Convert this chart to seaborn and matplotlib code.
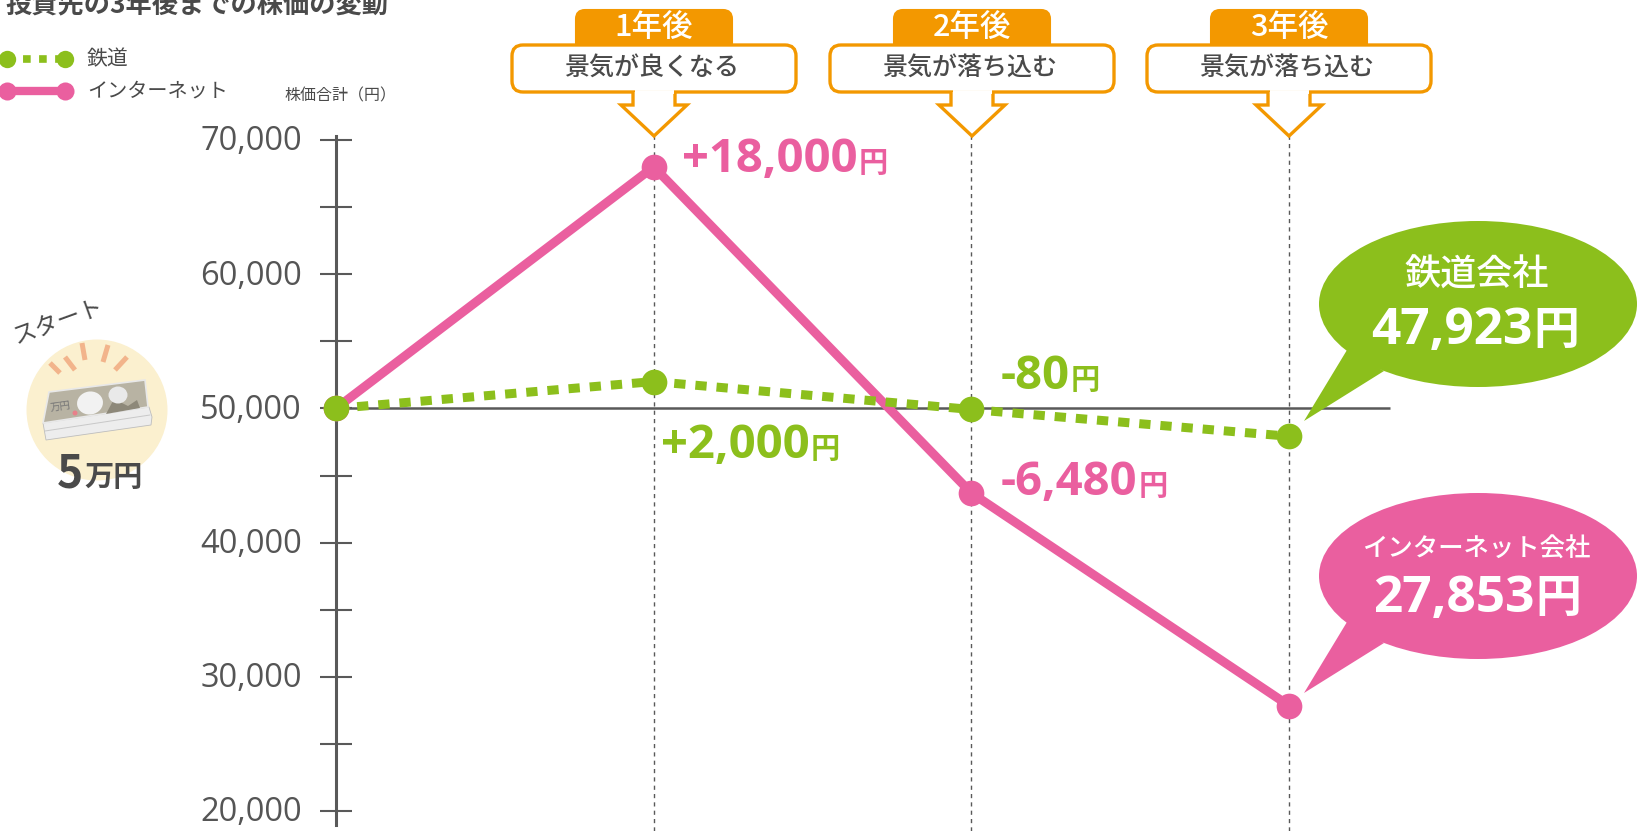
import matplotlib
matplotlib.use("Agg")
import matplotlib.pyplot as plt
import pandas as pd
import seaborn as sns
from matplotlib.patches import Circle, Ellipse, FancyBboxPatch, Polygon
from matplotlib.ticker import FixedLocator, FuncFormatter
from matplotlib.transforms import ScaledTranslation

years = [0, 1, 2, 3]
rail = [50000, 52000, 49920, 47923]
internet = [50000, 68000, 43700, 27853]
major_ticks = [20000, 30000, 40000, 50000, 60000, 70000]
minor_ticks = [25000, 35000, 45000, 55000, 65000]
event_years = ["1年後", "2年後", "3年後"]
event_texts = ["景気が良くなる", "景気が落ち込む", "景気が落ち込む"]

GREEN = "#8CBF1C"
PINK = "#EA5F9F"
ORANGE = "#F39800"
DARK = "#4A4A4A"
AXIS = "#595959"

sns.set_theme(style="white")
plt.rcParams["font.family"] = ["Open Sans", "Noto Sans CJK JP", "DejaVu Sans"]
JP = ["Noto Sans CJK JP", "DejaVu Sans"]

W, H = 1638, 831
fig = plt.figure(figsize=(W / 100, H / 100), dpi=100)

# data axes fill the whole figure, limits chosen so the scale lands on the right pixels
ax = fig.add_axes([0, 0, 1, 1])
x_unit = (1289 - 336) / 3
y_unit = 134.2 / 10000
ax.set_xlim(-336 / x_unit, (W - 336) / x_unit)
ax.set_ylim(70000 - (H - 140) / y_unit, 70000 + 140 / y_unit)
ax.patch.set_alpha(0)

for s in ["top", "right", "bottom"]:
    ax.spines[s].set_visible(False)
ax.spines["left"].set_position(("data", 0))
ax.spines["left"].set_bounds(18950, 70300)
ax.spines["left"].set_color(AXIS)
ax.spines["left"].set_linewidth(2.2)
ax.xaxis.set_visible(False)
ax.yaxis.set_major_locator(FixedLocator(major_ticks))
ax.yaxis.set_minor_locator(FixedLocator(minor_ticks))
ax.yaxis.set_major_formatter(FuncFormatter(lambda v, p: f"{int(v):,}"))
ax.tick_params(axis="y", which="both", direction="inout", length=23, width=1.5, color=AXIS, left=True)
ax.tick_params(axis="y", which="major", pad=13, labelsize=23.5, labelcolor="#555555")
lift = ScaledTranslation(0, 2 / 100, fig.dpi_scale_trans)
for lab in ax.get_yticklabels():
    lab.set_transform(lab.get_transform() + lift)

ax.hlines(50000, 0, (1390 - 336) / x_unit, color=AXIS, lw=1.8, zorder=2)
ax.vlines(years[1:], ax.get_ylim()[0], 70300, color=AXIS, lw=1, linestyles=(0, (3, 3)), zorder=1)

df = pd.DataFrame({"year": years, "rail": rail, "internet": internet})
sns.lineplot(data=df, x="year", y="internet", color=PINK, lw=6.5, marker="o", markersize=18.5,
             markeredgewidth=0, errorbar=None, legend=False, ax=ax, zorder=4)
sns.lineplot(data=df, x="year", y="rail", color=GREEN, lw=6.5, linestyle=(0, (1.25, 1.1)), marker="o",
             markersize=18.5, markeredgewidth=0, errorbar=None, legend=False, ax=ax, zorder=5)
ax.set_xlabel("")
ax.set_ylabel("")

# overlay in pixel coordinates for the callouts and the illustration
ov = fig.add_axes([0, 0, 1, 1])
ov.set_xlim(0, W)
ov.set_ylim(H, 0)
ov.axis("off")
ov.patch.set_alpha(0)

renderer = fig.canvas.get_renderer()


def value_label(x, y, number, color, size, yen_size):
    t = ov.text(x, y, number, color=color, fontsize=size, fontweight="bold", va="baseline", ha="left", zorder=7)
    x1 = t.get_window_extent(renderer).x1
    ov.text(x1 + 1, y, "円", color=color, fontsize=yen_size, fontweight="bold", va="baseline", ha="left",
            family=JP, zorder=7)


ov.text(5, 13, "投資先の3年後までの株価の変動", fontsize=18.9, fontweight="bold", color=DARK, va="baseline", family=JP)

# legend
ov.plot([7, 65], [59, 59], color=GREEN, lw=5.5, linestyle=(0, (1, 1.1)), marker="o", markersize=12.5, markeredgewidth=0)
ov.plot([7, 65], [91, 91], color=PINK, lw=6, marker="o", markersize=13, markeredgewidth=0)
ov.text(87, 59, "鉄道", fontsize=15, color=DARK, va="center", family=JP)
ov.text(87, 91, "インターネット", fontsize=14.5, color=DARK, va="center", family=JP)
ov.text(284, 96, "株価合計（円）", fontsize=11.5, color=DARK, va="center", family=JP)

# event callouts
for cx, label, text in zip([654, 972, 1289], event_years, event_texts):
    ov.add_patch(FancyBboxPatch((cx - 78, 10), 156, 42, boxstyle="round,pad=0,rounding_size=9",
                                fc=ORANGE, ec=ORANGE, lw=1.5, zorder=6))
    ov.add_patch(FancyBboxPatch((cx - 142, 45), 284, 47, boxstyle="round,pad=0,rounding_size=11",
                                fc="white", ec=ORANGE, lw=2.4, zorder=7))
    ov.add_patch(Polygon([(cx - 21, 92), (cx - 21, 105), (cx - 33, 105), (cx, 136), (cx + 33, 105), (cx + 21, 105),
                          (cx + 21, 92)], closed=False, fc="white", ec=ORANGE, lw=2.4, zorder=8, joinstyle="miter"))
    ov.plot([cx - 19.5, cx + 19.5], [92, 92], color="white", lw=2.8, zorder=9, solid_capstyle="butt")
    ov.text(cx, 28, label, color="white", fontsize=22, fontweight="medium", ha="center", va="center", zorder=9,
            family=JP)
    ov.text(cx - 2, 68, text, color=DARK, fontsize=18, fontweight="medium", ha="center", va="center", zorder=9, family=JP)

# value labels
value_label(682, 172, "+18,000", PINK, 34, 21)
value_label(661, 458, "+2,000", GREEN, 34, 21)
value_label(1001, 389, "-80", GREEN, 34, 21)
value_label(1001, 495, "-6,480", PINK, 34, 21)

# speech bubbles
ov.add_patch(Ellipse((1478, 304), 318, 166, fc=GREEN, ec="none", zorder=6))
ov.add_patch(Polygon([(1304, 421), (1347, 350), (1384, 371)], fc=GREEN, ec="none", zorder=6))
ov.text(1477, 276, "鉄道会社", color="white", fontsize=26, fontweight="medium", ha="center", va="center", zorder=7,
        family=JP)
t = ov.text(1371, 344, "47,923", color="white", fontsize=37, fontweight="bold", va="baseline", zorder=7)
ov.text(t.get_window_extent(renderer).x1 + 1, 344, "円", color="white", fontsize=33, fontweight="bold",
        va="baseline", zorder=7, family=JP)

ov.add_patch(Ellipse((1478, 576), 318, 166, fc=PINK, ec="none", zorder=6))
ov.add_patch(Polygon([(1304, 693), (1347, 622), (1384, 643)], fc=PINK, ec="none", zorder=6))
ov.text(1476, 550, "インターネット会社", color="white", fontsize=18.3, fontweight="medium", ha="center", va="center",
        zorder=7, family=JP)
t = ov.text(1373, 612, "27,853", color="white", fontsize=37, fontweight="bold", va="baseline", zorder=7)
ov.text(t.get_window_extent(renderer).x1 + 1, 612, "円", color="white", fontsize=33, fontweight="bold",
        va="baseline", zorder=7, family=JP)

# start illustration
ov.text(58, 322, "スタート", fontsize=17, color=DARK, rotation=20, ha="center", va="center", family=JP)
ov.add_patch(Circle((97, 410), 70.5, fc="#FBF0CF", ec="none"))
for x0, y0, x1, y1 in [(50, 363, 60, 373), (65, 357, 75, 370), (82, 343, 85, 360), (108, 345, 103, 362), (127, 357, 115, 370)]:
    ov.plot([x0, x1], [y0, y1], color="#F2B48B", lw=3.6, solid_capstyle="butt")
ov.add_patch(Polygon([(43, 423), (149, 407), (152, 417), (151, 425), (46, 440)], fc="#EDEDED", ec="#BDBDBD", lw=0.6))
ov.plot([45, 150], [431, 415], color="#C8C8C8", lw=0.7)
ov.add_patch(Polygon([(49, 392), (145, 380), (148, 407), (43, 423)], fc="#B8B3A3", ec="#E8E8E8", lw=1.2))
ov.add_patch(Polygon([(106, 414), (114, 399), (128, 406), (137, 400), (140, 408)], fc="#8D8879", ec="none"))
ov.add_patch(Ellipse((90, 403), 26, 23, angle=-10, fc="#F2F2F2", ec="none"))
ov.add_patch(Ellipse((118, 395), 19, 17, fc="#E9E9E9", ec="none"))
ov.add_patch(Circle((75, 413), 2.5, fc="#E8808A", ec="none"))
ov.text(60, 407, "万円", fontsize=7.5, color="#777777", rotation=8, ha="center", va="center", family=JP)
ov.text(83, 474, "5", fontsize=32, fontweight="bold", color=DARK, ha="right", va="center", family=JP)
ov.text(84, 477, "万円", fontsize=21, fontweight="bold", color=DARK, ha="left", va="center", family=JP)

plt.savefig("out.png", dpi=100)
